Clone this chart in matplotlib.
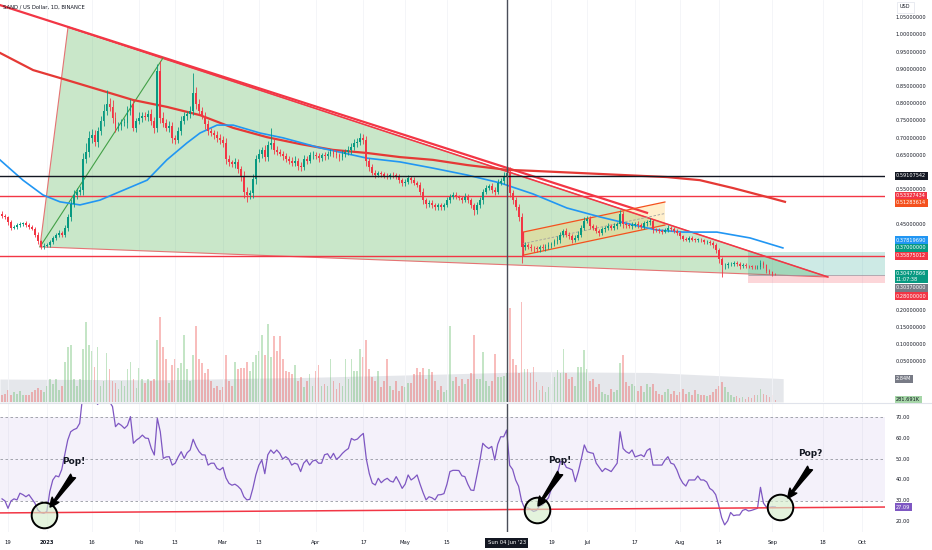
import matplotlib
matplotlib.use("Agg")
import matplotlib.pyplot as plt
from matplotlib.lines import Line2D
from matplotlib.patches import Polygon
import numpy as np

# ---- daily series, day 0 = Mon 19 Dec 2022 ----
first_day = -2
first_open = 0.480
closes = [
    0.475, 0.470, 0.455, 0.440, 0.443, 0.447, 0.450, 0.452, 0.448, 0.443,
    0.437, 0.420, 0.400, 0.385, 0.388, 0.390, 0.398, 0.410, 0.418, 0.425,
    0.420, 0.440, 0.470, 0.510, 0.535, 0.545, 0.550, 0.640, 0.660, 0.700,
    0.710, 0.690, 0.720, 0.750, 0.780, 0.800, 0.790, 0.760, 0.730, 0.735,
    0.745, 0.745, 0.780, 0.800, 0.730, 0.750, 0.760, 0.765, 0.762, 0.770,
    0.750, 0.730, 0.895, 0.760, 0.745, 0.730, 0.735, 0.700, 0.695, 0.720,
    0.750, 0.765, 0.770, 0.780, 0.830, 0.800, 0.780, 0.765, 0.740, 0.720,
    0.715, 0.710, 0.700, 0.695, 0.685, 0.640, 0.630, 0.625, 0.630, 0.610,
    0.590, 0.545, 0.535, 0.540, 0.580, 0.640, 0.655, 0.665, 0.645, 0.680,
    0.685, 0.665, 0.660, 0.655, 0.648, 0.640, 0.635, 0.628, 0.635, 0.620,
    0.615, 0.640, 0.635, 0.650, 0.652, 0.648, 0.642, 0.650, 0.648, 0.655,
    0.660, 0.655, 0.650, 0.645, 0.655, 0.660, 0.665, 0.675, 0.685, 0.690,
    0.700, 0.695, 0.635, 0.615, 0.600, 0.593, 0.598, 0.595, 0.590, 0.588,
    0.593, 0.592, 0.588, 0.578, 0.570, 0.572, 0.583, 0.578, 0.570, 0.565,
    0.545, 0.520, 0.510, 0.513, 0.505, 0.500, 0.505, 0.500, 0.507, 0.520,
    0.528, 0.535, 0.530, 0.525, 0.520, 0.530, 0.520, 0.505, 0.490, 0.505,
    0.520, 0.545, 0.555, 0.560, 0.550, 0.545, 0.570, 0.575, 0.590, 0.600,
    0.540, 0.520, 0.500, 0.470, 0.385, 0.390, 0.385, 0.382, 0.380, 0.377,
    0.383, 0.380, 0.385, 0.390, 0.393, 0.400, 0.405, 0.420, 0.430, 0.420,
    0.415, 0.405, 0.410, 0.420, 0.440, 0.460, 0.465, 0.445, 0.440, 0.430,
    0.425, 0.435, 0.440, 0.445, 0.440, 0.445, 0.450, 0.480, 0.450, 0.448,
    0.445, 0.448, 0.450, 0.447, 0.443, 0.452, 0.455, 0.460, 0.435, 0.433,
    0.430, 0.428, 0.432, 0.440, 0.435, 0.430, 0.425, 0.415, 0.408, 0.405,
    0.410, 0.405, 0.404, 0.405, 0.403, 0.398, 0.398, 0.395, 0.390, 0.375,
    0.350, 0.330, 0.330, 0.333, 0.335, 0.337, 0.333, 0.328, 0.332, 0.328,
    0.327, 0.326, 0.325, 0.325, 0.337, 0.330, 0.315, 0.310, 0.305, 0.3048,
]
# wick lengths beyond the body, in 1/1000 USD
hi_ext = [
    8, 6, 5, 6, 5, 6, 5, 4, 6, 5,
    4, 5, 6, 5, 6, 4, 5, 6, 5, 7,
    6, 8, 10, 12, 15, 10, 12, 18, 25, 20,
    18, 15, 12, 15, 20, 40, 18, 20, 15, 12,
    10, 14, 15, 15, 12, 10, 15, 12, 10, 12,
    15, 12, 20, 30, 15, 12, 15, 12, 10, 12,
    15, 12, 10, 15, 60, 20, 15, 12, 10, 12,
    10, 8, 10, 12, 10, 15, 10, 8, 12, 10,
    10, 15, 12, 10, 15, 12, 15, 10, 15, 12,
    45, 15, 12, 10, 8, 10, 8, 10, 12, 8,
    10, 12, 8, 10, 12, 8, 10, 8, 10, 8,
    10, 8, 10, 8, 10, 8, 12, 10, 12, 10,
    15, 12, 10, 8, 10, 8, 6, 8, 6, 8,
    6, 8, 6, 8, 6, 8, 10, 6, 8, 6,
    8, 10, 6, 8, 6, 8, 6, 8, 6, 8,
    10, 8, 10, 6, 8, 10, 8, 6, 8, 10,
    10, 8, 10, 8, 10, 8, 10, 8, 12, 12,
    15, 10, 8, 10, 12, 8, 6, 8, 6, 8,
    6, 8, 6, 8, 6, 8, 10, 8, 6, 8,
    8, 6, 8, 10, 8, 10, 8, 10, 6, 8,
    6, 8, 6, 8, 6, 8, 6, 10, 8, 6,
    6, 8, 6, 8, 6, 8, 6, 8, 6, 5,
    6, 5, 6, 8, 5, 6, 5, 6, 5, 6,
    5, 6, 5, 6, 5, 4, 5, 6, 5, 4,
    6, 5, 8, 6, 5, 6, 5, 6, 5, 6,
    4, 5, 4, 5, 8, 6, 5, 4, 5, 3,
]
lo_ext = [
    6, 5, 6, 8, 5, 6, 5, 6, 5, 6,
    5, 6, 8, 8, 6, 5, 6, 5, 6, 5,
    6, 8, 10, 12, 10, 12, 10, 15, 12, 15,
    15, 12, 15, 12, 15, 12, 10, 15, 12, 10,
    12, 10, 15, 12, 10, 12, 10, 12, 10, 12,
    12, 15, 12, 15, 12, 10, 12, 15, 12, 10,
    12, 10, 12, 10, 12, 15, 12, 10, 12, 10,
    10, 12, 10, 12, 10, 15, 12, 10, 12, 10,
    15, 20, 20, 12, 15, 12, 10, 12, 10, 12,
    10, 12, 10, 8, 10, 8, 10, 8, 10, 12,
    10, 8, 10, 8, 10, 8, 10, 8, 10, 8,
    8, 10, 8, 10, 8, 10, 8, 10, 8, 10,
    10, 12, 15, 10, 8, 10, 6, 8, 6, 8,
    6, 8, 6, 8, 10, 8, 6, 8, 6, 8,
    10, 12, 12, 10, 8, 10, 8, 10, 8, 6,
    8, 6, 8, 6, 8, 6, 8, 8, 12, 10,
    8, 10, 8, 6, 8, 10, 8, 6, 8, 10,
    10, 12, 10, 12, 48, 10, 8, 10, 12, 8,
    8, 6, 8, 6, 8, 6, 8, 10, 8, 6,
    8, 10, 8, 6, 8, 6, 8, 10, 8, 6,
    8, 6, 8, 6, 8, 6, 8, 6, 10, 8,
    6, 8, 6, 8, 6, 8, 6, 8, 10, 6,
    5, 6, 5, 6, 5, 6, 5, 8, 6, 5,
    6, 5, 6, 5, 6, 5, 6, 5, 8, 10,
    12, 34, 10, 8, 6, 8, 6, 8, 5, 6,
    5, 6, 5, 6, 5, 6, 8, 6, 5, 3,
]
# volume, millions of SAND
volumes = [
    0.8, 1.0, 1.5, 0.8, 1.2, 1.0, 1.3, 0.8, 0.8, 0.9,
    1.2, 1.5, 1.7, 1.5, 1.2, 2.0, 2.8, 2.2, 2.8, 1.5,
    2.0, 4.9, 6.7, 7.0, 2.8, 2.0, 2.8, 6.5, 9.8, 7.0,
    6.2, 4.3, 6.7, 2.0, 2.5, 6.0, 4.0, 2.5, 2.3, 1.6,
    2.5, 2.0, 4.0, 4.9, 2.8, 1.7, 4.2, 2.8, 2.3, 2.8,
    2.5, 2.8, 7.5, 10.3, 6.7, 5.2, 2.3, 4.5, 5.2, 4.2,
    4.8, 8.2, 4.0, 2.5, 5.7, 9.3, 5.2, 4.8, 3.5, 4.0,
    2.5, 1.7, 2.0, 1.5, 1.8, 5.7, 2.5, 2.0, 4.9, 4.0,
    4.2, 4.2, 4.9, 3.8, 4.9, 5.7, 6.2, 8.2, 5.7, 9.5,
    5.5, 8.0, 6.2, 8.0, 5.2, 3.8, 3.6, 3.4, 4.5, 2.5,
    3.0, 1.8, 2.5, 3.4, 2.0, 3.8, 4.5, 2.0, 2.2, 2.0,
    5.2, 2.5, 1.6, 2.3, 2.0, 5.2, 2.8, 5.2, 3.8, 3.8,
    6.5, 5.5, 7.5, 4.0, 3.0, 2.5, 3.8, 1.8, 2.5, 5.3,
    2.0, 1.5, 2.5, 1.3, 2.0, 1.8, 2.3, 2.3, 3.4, 4.2,
    3.6, 4.2, 2.8, 4.0, 3.6, 2.5, 1.5, 2.0, 1.2, 1.5,
    9.3, 2.5, 3.0, 2.0, 2.8, 2.2, 2.8, 3.5, 8.2, 2.8,
    2.8, 6.1, 2.5, 2.0, 2.5, 5.8, 3.0, 3.0, 3.2, 3.5,
    11.5, 5.2, 4.5, 3.5, 12.2, 4.0, 4.0, 3.5, 4.3, 2.4,
    1.5, 2.0, 1.2, 1.8, 2.2, 3.0, 3.9, 3.5, 6.5, 3.5,
    2.8, 3.0, 2.0, 4.3, 4.3, 6.3, 4.0, 2.5, 2.8, 1.8,
    2.2, 1.2, 1.0, 0.8, 1.6, 1.2, 1.5, 4.8, 5.7, 2.4,
    2.0, 2.2, 2.0, 1.4, 2.0, 1.2, 2.2, 1.8, 2.2, 1.4,
    1.0, 0.8, 1.2, 1.6, 1.0, 1.4, 0.8, 1.2, 1.6, 1.0,
    1.2, 0.9, 1.5, 1.0, 0.8, 0.8, 0.7, 0.8, 1.2, 1.6,
    2.0, 2.4, 1.8, 1.2, 0.8, 0.6, 0.7, 0.5, 0.6, 0.4,
    0.6, 0.5, 0.9, 0.8, 1.6, 1.0, 0.8, 0.6, 0.9, 0.28,
]
rsi = [
    31, 30, 26.5, 30, 31, 30.5, 33.7, 33, 32, 33,
    31, 29, 25.7, 24.5, 24.1, 25, 34.5, 40, 42, 41.5,
    45, 52, 59, 63, 64, 64.6, 67, 80, 84, 86,
    83, 79, 76, 78.5, 81, 80, 77.3, 75, 65.4, 67,
    66, 64.6, 66, 70.2, 57.5, 59, 60, 61.4, 60, 59.8,
    55, 51.9, 69.4, 63, 50.3, 51, 51.1, 47.1, 48, 51,
    53.5, 50.3, 53, 54.3, 59.4, 56, 53.5, 52, 51.9, 47.1,
    48, 48, 45.5, 44.8, 46, 41, 38.4, 37.5, 38, 37,
    35.5, 32, 30.5, 30.8, 36, 42.4, 47, 49.5, 43, 52,
    54.3, 52.7, 54.3, 52.7, 50, 51.1, 50, 47.1, 48, 47.5,
    44, 48, 49.5, 47.1, 49, 49.5, 48, 48, 52, 52.5,
    50.3, 52.7, 49.8, 51, 52.7, 54, 55, 59.8, 59, 59.5,
    61, 62.2, 50, 43, 38.5, 37.6, 40.8, 38.7, 40, 40.8,
    39.5, 39, 41.6, 39, 36, 38, 42.4, 40, 41, 42.4,
    38, 34, 30.5, 32, 31.5, 30.5, 32.9, 33, 33.5, 38,
    44, 44.6, 44.6, 44.5, 42, 41.6, 38, 35.2, 35, 42,
    49, 57.5, 56, 55, 56, 49.5, 57, 60.6, 60.6, 63.8,
    47, 45, 40, 37, 30, 26.5, 26.8, 26, 25, 25.5,
    27.6, 28, 30, 31.5, 36, 40, 43, 48.7, 48.7, 46,
    45.5, 44.8, 39.2, 44, 50, 56.7, 53.5, 53, 52.7, 48,
    46, 44, 45.5, 44.8, 44, 46, 48, 63, 55, 53.5,
    52.7, 54.3, 51, 51.5, 52, 51.1, 54, 55, 47.1, 47.1,
    47.1, 47.1, 49.5, 51.1, 48, 47.5, 44.8, 41, 38.5, 37.1,
    40, 40, 40, 41.9, 40, 40, 39, 36, 35, 33,
    28, 22, 18.6, 20.5, 24.5, 23, 23.3, 23.3, 25.5, 26,
    25.2, 25.5, 26, 26.5, 36.5, 29, 27, 27, 27.2, 27.1,
]

# moving averages (day, value)
ma200_days = [-2.7, 8.4, 17.4, 30.8, 41.9, 53.2, 64.3, 75.4, 86.7, 97.8, 108.8,
              120.2, 131.3, 142.3, 153.7, 167.1, 175.8, 198.3, 220.7, 231.7,
              242.8, 254.2, 260.2]
ma200_vals = [0.948, 0.898, 0.875, 0.840, 0.811, 0.791, 0.767, 0.730, 0.703, 0.683,
              0.666, 0.657, 0.645, 0.637, 0.622, 0.608, 0.605, 0.596, 0.587, 0.578,
              0.555, 0.529, 0.515]
ma50_days = [-2.7, 5.0, 11.7, 17.4, 24.1, 30.8, 36.5, 46.6, 53.2, 59.9, 64.3, 70.0,
             75.4, 84.4, 92.1, 104.5, 120.2, 131.3, 142.3, 153.7, 164.8, 175.8,
             187.2, 198.3, 209.3, 217.3, 226.1, 237.4, 248.5, 259.5]
ma50_vals = [0.637, 0.578, 0.535, 0.515, 0.506, 0.520, 0.541, 0.578, 0.637, 0.686,
             0.715, 0.738, 0.738, 0.715, 0.701, 0.672, 0.642, 0.631, 0.613, 0.593,
             0.570, 0.538, 0.497, 0.471, 0.448, 0.433, 0.427, 0.427, 0.410, 0.381]
vol_ma_days = [-2.7, 50, 100, 145, 175, 215, 259.6]
vol_ma_vals = [2.8, 2.7, 3.0, 3.4, 3.7, 3.6, 2.85]

# drawings on the chart
triangle_days = [20.1, 10.7, 274.6]
triangle_prices = [1.023, 0.384, 0.2965]
trend_days = [-2.7, 214.0]
trend_prices = [1.087, 0.483]
leg_days = [10.7, 51.9]
leg_prices = [0.384, 0.933]
channel_days = [172.5, 220.0]
channel_upper = [0.427, 0.5145]
channel_lower = [0.360, 0.4475]
pos_start = 247.8
pos_target, pos_entry, pos_stop = 0.37, 0.3037, 0.28
cross_day = 167
cross_price = 0.59107542
red_levels = [0.53327434, 0.35875012]
rsi_line_days = [-2.7, 293.7]
rsi_line_vals = [24.3, 27.1]
pop_days = [12.1, 177.2, 258.5]
pop_rsi = [23.3, 25.7, 27.1]
arrow_tail = [(21.8, 41.9), (184.9, 43.3), (268.6, 45.7)]
arrow_head = [(14.1, 27.1), (177.5, 27.6), (261.2, 31.4)]
pop_text_pos = [(22.1, 48.6), (184.9, 49.5), (268.6, 52.4)]
pop_texts = ['Pop!', 'Pop!', 'Pop?']

x_tick_days = [0, 13, 28, 44, 56, 72, 84, 103, 119, 133, 147, 182, 194, 210, 225, 238, 256, 273, 286]
x_tick_labels = ['19', '2023', '16', 'Feb', '13', 'Mar', '13', 'Apr', '17', 'May', '15',
                 '19', 'Jul', '17', 'Aug', '14', 'Sep', '18', 'Oct']
price_ticks = [1.05, 1.00, 0.95, 0.90, 0.85, 0.80, 0.75, 0.70, 0.65, 0.55, 0.45,
               0.20, 0.15, 0.10, 0.05]
rsi_ticks = [70, 60, 50, 40, 30, 20]

GREEN, RED = '#089981', '#f23645'
W, H = 932, 550

fig = plt.figure(figsize=(W / 100, H / 100), dpi=100)
fig.patch.set_facecolor('white')


def rect(top, bottom):
    return [0, 1 - bottom / H, 885 / W, (bottom - top) / H]


ax_v = fig.add_axes(rect(0, 402))
ax_p = fig.add_axes(rect(0, 402))
ax_r = fig.add_axes(rect(403, 532))
for ax in (ax_v, ax_p, ax_r):
    ax.set_xlim(-2.68, 293.7)
    ax.set_axis_off()
ax_p.set_ylim(-0.0669, 1.1017)
ax_v.set_ylim(0, 49)
ax_r.set_ylim(15.2, 76.7)

# faint grid
for d in x_tick_days:
    ax_p.axvline(d, color='#f3f4f7', lw=0.6, zorder=0)
    ax_r.axvline(d, color='#f3f4f7', lw=0.6, zorder=0)

days = np.arange(first_day, first_day + len(closes))
c = np.array(closes)
o = np.r_[first_open, c[:-1]]
highs = np.maximum(o, c) + np.array(hi_ext) / 1000
lows = np.minimum(o, c) - np.array(lo_ext) / 1000
up = c >= o
cols = np.where(up, GREEN, RED)

# volume
vcols = np.where(up, '#66bb6a', '#ef5350')
ax_v.fill_between(vol_ma_days, 0, vol_ma_vals, color='#d1d4dc', alpha=0.55, lw=0, zorder=1)
ax_v.bar(days, volumes, width=0.6, color=vcols, alpha=0.38, lw=0, zorder=2)

# triangle and trendlines
tri = Polygon(list(zip(triangle_days, triangle_prices)), closed=True,
              fc=(0.30, 0.69, 0.31, 0.30), ec='#e57373', lw=0.8, zorder=1)
ax_p.add_patch(tri)
ax_p.plot([triangle_days[0], triangle_days[2]], [triangle_prices[0], triangle_prices[2]],
          color=RED, lw=1.1, zorder=4)
ax_p.plot(trend_days, trend_prices, color=RED, lw=1.6, zorder=4)
ax_p.plot(leg_days, leg_prices, color='#43a047', lw=0.8, zorder=4)

# long position box
ax_p.fill_between([pos_start, 293.7], pos_entry, pos_target, color=GREEN, alpha=0.2, lw=0, zorder=1)
ax_p.fill_between([pos_start, 293.7], pos_stop, pos_entry, color=RED, alpha=0.2, lw=0, zorder=1)
ax_p.hlines(pos_entry, pos_start, 293.7, color='#9598a1', lw=0.5, zorder=2)

# parallel channel
ch = Polygon([(channel_days[0], channel_lower[0]), (channel_days[0], channel_upper[0]),
              (channel_days[1], channel_upper[1]), (channel_days[1], channel_lower[1])],
             closed=True, fc=(1.0, 0.80, 0.35, 0.30), ec='none', zorder=2)
ax_p.add_patch(ch)
ax_p.plot(channel_days, channel_upper, color='#f4511e', lw=0.9, zorder=4)
ax_p.plot(channel_days, channel_lower, color='#f4511e', lw=0.9, zorder=4)
ax_p.plot([channel_days[0]] * 2, [channel_lower[0], channel_upper[0]], color=RED, lw=0.9, zorder=4)
ax_p.plot(channel_days, [(a + b) / 2 for a, b in zip(channel_upper, channel_lower)],
          color='#9e9e9e', lw=0.6, ls=(0, (3, 2)), zorder=4)

# horizontal levels and crosshair
for lv in red_levels:
    ax_p.axhline(lv, color=RED, lw=1.0, zorder=3)
ax_p.axhline(cross_price, color='#131722', lw=1.0, zorder=7)
ax_p.axvline(cross_day, color='#4a4e59', lw=1.0, zorder=7)
ax_r.axvline(cross_day, color='#4a4e59', lw=1.0, zorder=7)

# moving averages
ax_p.plot(ma200_days, ma200_vals, color='#e53935', lw=1.6, zorder=4)
ax_p.plot(ma50_days, ma50_vals, color='#2196f3', lw=1.2, zorder=4)

# candles
ax_p.vlines(days, lows, highs, colors=cols, lw=0.6, zorder=5)
ax_p.bar(days, np.maximum(np.abs(c - o), 0.0015), bottom=np.minimum(o, c),
         width=0.62, color=cols, lw=0, zorder=6)

# RSI pane
ax_r.axhspan(30, 70, color='#7e57c2', alpha=0.08, lw=0, zorder=0)
for lv in (70, 50, 30):
    ax_r.axhline(lv, color='#9598a1', lw=0.6, ls=(0, (3, 3)), zorder=1)
ax_r.plot(days, rsi, color='#7e57c2', lw=0.9, zorder=3)
ax_r.plot(rsi_line_days, rsi_line_vals, color=RED, lw=1.1, zorder=4)
ax_r.scatter(pop_days, pop_rsi, s=340, fc=(0.84, 0.93, 0.80, 0.65), ec='black', lw=1.4, zorder=5)
for (tx, ty), (hx, hy) in zip(arrow_tail, arrow_head):
    ax_r.annotate('', xy=(hx, hy), xytext=(tx, ty), annotation_clip=False,
                  arrowprops=dict(arrowstyle='fancy,head_length=0.6,head_width=0.55,tail_width=0.4',
                                  fc='black', ec='black', shrinkA=0, shrinkB=0, mutation_scale=11),
                  zorder=6)
for (px, py), t in zip(pop_text_pos, pop_texts):
    ax_r.text(px, py, t, fontsize=6.5, fontweight='bold', color='#131722',
              ha='center', va='center', zorder=6)

# pane separator
fig.add_artist(Line2D([0, 1], [1 - 402.5 / H] * 2, transform=fig.transFigure, color='#e0e3eb', lw=0.8))

# right scale
LX = 896 / 885
lab_kw = dict(fontsize=3.6, va='center', ha='left', clip_on=False)
for v in price_ticks:
    ax_p.text(LX, v, f'{v:.8f}', transform=ax_p.get_yaxis_transform(), color='#131722', **lab_kw)
for v in rsi_ticks:
    ax_r.text(LX, v, f'{v:.2f}', transform=ax_r.get_yaxis_transform(), color='#131722', **lab_kw)


def tag(ax, y, text, fc, tc='white'):
    ax.text(LX, y, text, transform=ax.get_yaxis_transform(), color=tc, zorder=10,
            bbox=dict(boxstyle='square,pad=0.3', fc=fc, ec='none'), **lab_kw)


tag(ax_p, cross_price, '0.59107542', '#131722')
tag(ax_p, 0.53327434, '0.53327434', RED)
tag(ax_p, 0.5128, '0.51283614', '#f4511e')
tag(ax_p, 0.404, '0.37819690', '#2196f3')
tag(ax_p, 0.381, '0.37000000', GREEN)
tag(ax_p, 0.3576, '0.35875012', RED)
tag(ax_p, 0.298, '0.30477866\n11:07:38', GREEN)
tag(ax_p, 0.2645, '0.30370000', '#787b86')
tag(ax_p, 0.241, '0.28000000', RED)
tag(ax_v, 2.84, '2.84M', '#787b86')
tag(ax_v, 0.28, '281.691K', '#a5d6a7', '#131722')
tag(ax_r, 27.09, '27.09', '#7e57c2')

# time scale
for d, t in zip(x_tick_days, x_tick_labels):
    ax_r.text(d, -0.085, t, transform=ax_r.get_xaxis_transform(), fontsize=3.8,
              fontweight='bold' if t == '2023' else 'normal',
              color='#131722', ha='center', va='center', clip_on=False)
ax_r.text(cross_day, -0.085, "Sun 04 Jun '23", transform=ax_r.get_xaxis_transform(),
          fontsize=3.8, color='white', ha='center', va='center', clip_on=False, zorder=10,
          bbox=dict(boxstyle='square,pad=0.4', fc='#131722', ec='none'))

fig.text(3 / W, 1 - 7 / H, 'SAND / US Dollar, 1D, BINANCE', fontsize=3.8, color='#131722', va='center')
fig.text(900 / W, 1 - 7 / H, 'USD', fontsize=3.6, color='#131722', va='center',
         bbox=dict(boxstyle='square,pad=0.6', fc='white', ec='#e0e3eb', lw=0.5))

fig.savefig('out.png', dpi=100)
